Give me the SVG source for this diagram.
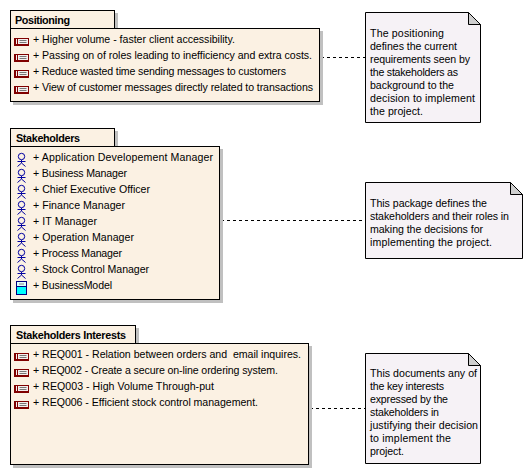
<svg xmlns="http://www.w3.org/2000/svg" width="532" height="475" viewBox="0 0 532 475">
<style>
text{font-family:"Liberation Sans",Arial,sans-serif;font-size:10.6px;fill:#000}
.t{font-weight:bold;font-size:10.8px}
.s{fill:#c0c0c0}
.p{fill:#fbf1e3;stroke:#000;stroke-width:1}
.n{fill:#f6f2f6;stroke:#000;stroke-width:1}
.f{fill:#cfcfcf;stroke:#000;stroke-width:1}
.c{fill:none;stroke:#000;stroke-width:1;stroke-dasharray:3 3}
</style>
<defs>
<g id="req"><rect x="0.5" y="0.5" width="14" height="6" fill="#f4eeee" stroke="#800000"/><path d="M0 6h15v2H0z" fill="#800000"/><path d="M1.500 1V7M3.500 1V7" stroke="#800000" fill="none"/><path d="M5.500 2.500h7M5.500 4.500h7" stroke="#777" fill="none"/></g>
<g id="act" fill="none" stroke="#0000a0"><circle cx="4.500" cy="3.500" r="3.200"/><path d="M4.500 7V10M0.500 8.500H8.500M0.500 13.500L4.500 10L8.500 13.500"/></g>
<g id="cls"><rect x="0.500" y="0.500" width="10" height="13" fill="#00ffff" stroke="#00007f"/><rect x="1" y="1" width="9" height="4" fill="#dff"/><path d="M1 5.500h9" stroke="#00007f"/><path d="M3 3h5" stroke="#888"/></g>
</defs>
<g id="connectors">
<path class="c" d="M321 57.500H365"/>
<path class="c" d="M221 220.500H365"/>
<path class="c" d="M310 408.500H365"/>
</g>
<g id="positioning">
<path class="s" d="M13 13H118V31H323V105H13Z"/>
<rect class="p" x="10.500" y="10.500" width="104" height="18"/>
<rect class="p" x="10.500" y="28.500" width="309" height="73"/>
<text class="t" x="15" y="24" textLength="55">Positioning</text>
<use href="#req" x="14" y="38"/><text x="33" y="43" textLength="202">+ Higher volume - faster client accessibility.</text>
<use href="#req" x="14" y="54"/><text x="33" y="59" textLength="279">+ Passing on of roles leading to inefficiency and extra costs.</text>
<use href="#req" x="14" y="70"/><text x="33" y="75" textLength="253">+ Reduce wasted time sending messages to customers</text>
<use href="#req" x="14" y="86"/><text x="33" y="91" textLength="280">+ View of customer messages directly related to transactions</text>
</g>
<g id="stakeholders">
<path class="s" d="M13 131H118V149H223V303H13Z"/>
<rect class="p" x="10.500" y="128.500" width="104" height="18"/>
<rect class="p" x="10.500" y="146.500" width="209" height="153"/>
<text class="t" x="16" y="142" textLength="64">Stakeholders</text>
<use href="#act" x="17" y="153"/><text x="33" y="161" textLength="180">+ Application Developement Manager</text>
<use href="#act" x="17" y="169"/><text x="33" y="177" textLength="94">+ Business Manager</text>
<use href="#act" x="17" y="185"/><text x="33" y="193" textLength="117">+ Chief Executive Officer</text>
<use href="#act" x="17" y="201"/><text x="33" y="209" textLength="92">+ Finance Manager</text>
<use href="#act" x="17" y="217"/><text x="33" y="225" textLength="64">+ IT Manager</text>
<use href="#act" x="17" y="233"/><text x="33" y="241" textLength="101">+ Operation Manager</text>
<use href="#act" x="17" y="249"/><text x="33" y="257" textLength="89">+ Process Manager</text>
<use href="#act" x="17" y="265"/><text x="33" y="273" textLength="116">+ Stock Control Manager</text>
<use href="#cls" x="16" y="281"/><text x="33" y="289" textLength="79">+ BusinessModel</text>
</g>
<g id="stakeholders-interests">
<path class="s" d="M13 328H139V346H312V468H13Z"/>
<rect class="p" x="10.500" y="325.500" width="125" height="18"/>
<rect class="p" x="10.500" y="343.500" width="298" height="121"/>
<text class="t" x="16" y="339" textLength="110">Stakeholders Interests</text>
<use href="#req" x="14" y="353"/><text x="33" y="358" xml:space="preserve" textLength="268">+ REQ001 - Relation between orders and  email inquires.</text>
<use href="#req" x="14" y="369"/><text x="33" y="374" textLength="245">+ REQ002 - Create a secure on-line ordering system.</text>
<use href="#req" x="14" y="385"/><text x="33" y="390" textLength="181">+ REQ003 - High Volume Through-put</text>
<use href="#req" x="14" y="401"/><text x="33" y="406" textLength="225">+ REQ006 - Efficient stock control management.</text>
</g>
<g id="note-positioning">
<path class="n" d="M365.500 12.500H468.500L480.500 24.500V122.500H365.500Z"/>
<path class="f" d="M468.500 12.500V24.500H480.500Z"/>
<text x="370" y="37" textLength="74">The positioning</text>
<text x="370" y="50" textLength="87">defines the current</text>
<text x="370" y="63" textLength="100">requirements seen by</text>
<text x="370" y="76" textLength="88">the stakeholders as</text>
<text x="370" y="89" textLength="84">background to the</text>
<text x="370" y="102" textLength="105">decision to implement</text>
<text x="370" y="115" textLength="53">the project.</text>
</g>
<g id="note-stakeholders">
<path class="n" d="M365.500 182.500H510.500L522.500 194.500V258.500H365.500Z"/>
<path class="f" d="M510.500 182.500V194.500H522.500Z"/>
<text x="370" y="207" textLength="117">This package defines the</text>
<text x="370" y="220" textLength="139">stakeholders and their roles in</text>
<text x="370" y="233" textLength="113">making the decisions for</text>
<text x="370" y="246" textLength="122">implementing the project.</text>
</g>
<g id="note-interests">
<path class="n" d="M365.500 353.500H468.500L480.500 365.500V463.500H365.500Z"/>
<path class="f" d="M468.500 353.500V365.500H480.500Z"/>
<text x="370" y="377" textLength="107">This documents any of</text>
<text x="370" y="390" textLength="74">the key interests</text>
<text x="370" y="403" textLength="78">expressed by the</text>
<text x="370" y="416" textLength="69">stakeholders in</text>
<text x="370" y="429" textLength="108">justifying their decision</text>
<text x="370" y="442" textLength="81">to implement the</text>
<text x="370" y="455" textLength="34">project.</text>
</g>
</svg>
